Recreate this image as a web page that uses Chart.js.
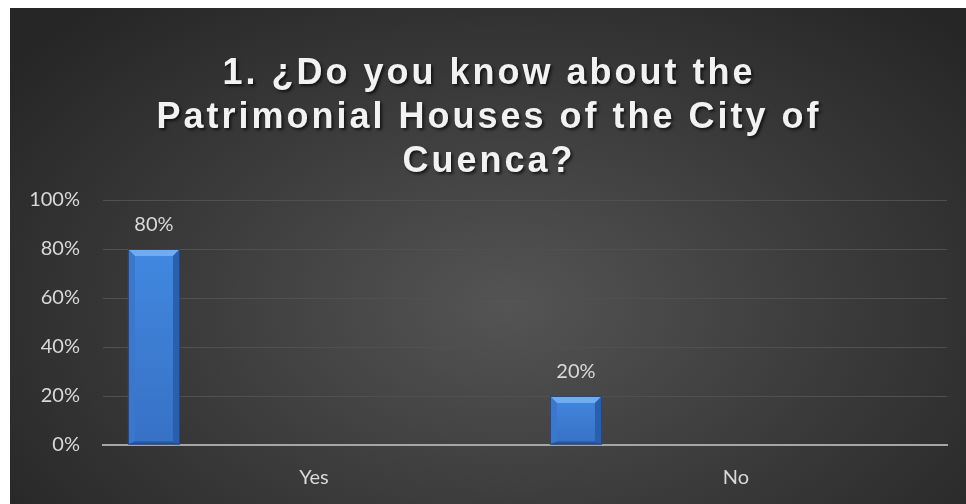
<!DOCTYPE html>
<html>
<head>
<meta charset="utf-8">
<script src="https://cdn.jsdelivr.net/npm/chart.js@4.4.1/dist/chart.umd.min.js"></script>
<style>
    html, body { margin: 0; padding: 0; background: #ffffff; }
    #chartBox {
        position: absolute;
        left: 10px;
        top: 8px;
        width: 956px;
        height: 496px;
        background: radial-gradient(ellipse 65% 80% at 52% 60%, #545454 0%, #3a3a3a 55%, #262626 100%);
    }
</style>
</head>
<body>
<div id="chartBox"><canvas id="knowChart"></canvas></div>
<script>
"use strict";

// Chart data
var titleLines = ["1. \u00bfDo you know about the", "Patrimonial Houses of the City of", "Cuenca?"];
var answers = ["Yes", "No"];
var answerShares = [80, 20];       // percent of respondents
var emptySeries = [null, null];   // second (blank) series of the source sheet
var yTicks = [0, 20, 40, 60, 80, 100];

// Title drawn by hand so it can get letter spacing and a shadow
var spacedTitle = {
    id: 'spacedTitle',
    afterDraw: function (chart) {
        var ctx = chart.ctx;
        ctx.save();
        ctx.font = 'bold 36px "Liberation Sans", Arial, sans-serif';
        ctx.fillStyle = '#f2f2f2';
        ctx.textAlign = 'center';
        ctx.textBaseline = 'alphabetic';
        ctx.letterSpacing = '3px';
        ctx.shadowColor = 'rgba(0, 0, 0, 0.65)';
        ctx.shadowOffsetX = 2;
        ctx.shadowOffsetY = 2;
        ctx.shadowBlur = 3;
        titleLines.forEach(function (line, i) {
            ctx.fillText(line, chart.width / 2 + 1, 76 + i * 44);
        });
        ctx.restore();
    }
};

// Bevelled bars and the value labels above them
var bevelBars = {
    id: 'bevelBars',
    afterDatasetsDraw: function (chart) {
        var ctx = chart.ctx;
        var meta = chart.getDatasetMeta(0);
        meta.data.forEach(function (bar, i) {
            var p = bar.getProps(['x', 'y', 'base', 'width'], true);
            var l = p.x - p.width / 2, r = p.x + p.width / 2, t = p.y, b = p.base;
            var d = 7;

            ctx.save();
            // face
            var face = ctx.createLinearGradient(0, t, 0, b);
            face.addColorStop(0, '#4188e0');
            face.addColorStop(1, '#3771c4');
            ctx.fillStyle = face;
            ctx.fillRect(l, t, r - l, b - t);

            // top bevel
            ctx.fillStyle = '#72acf0';
            ctx.beginPath();
            ctx.moveTo(l, t); ctx.lineTo(r, t); ctx.lineTo(r - d, t + d); ctx.lineTo(l + d, t + d);
            ctx.closePath(); ctx.fill();
            // left bevel
            ctx.fillStyle = '#3a78cf';
            ctx.beginPath();
            ctx.moveTo(l, t); ctx.lineTo(l + d, t + d); ctx.lineTo(l + d, b - 3); ctx.lineTo(l, b);
            ctx.closePath(); ctx.fill();
            // right bevel
            ctx.fillStyle = '#2c5fab';
            ctx.beginPath();
            ctx.moveTo(r, t); ctx.lineTo(r - d, t + d); ctx.lineTo(r - d, b - 3); ctx.lineTo(r, b);
            ctx.closePath(); ctx.fill();
            // bottom bevel
            ctx.fillStyle = '#2a5699';
            ctx.beginPath();
            ctx.moveTo(l, b); ctx.lineTo(l + d, b - 3); ctx.lineTo(r - d, b - 3); ctx.lineTo(r, b);
            ctx.closePath(); ctx.fill();
            // outline
            ctx.strokeStyle = '#24477e';
            ctx.lineWidth = 1;
            ctx.strokeRect(l + 0.5, t + 0.5, r - l - 1, b - t - 1);

            // value label
            ctx.font = '20px Lato, "Open Sans", sans-serif';
            ctx.fillStyle = '#d9d9d9';
            ctx.textAlign = 'center';
            ctx.textBaseline = 'alphabetic';
            ctx.fillText(answerShares[i] + '%', p.x, t - 18);
            ctx.restore();
        });
    }
};

var config = {
    type: 'bar',
    data: {
        labels: answers,
        datasets: [{
            label: 'Share',
            data: answerShares,
            backgroundColor: 'rgba(0,0,0,0)',
            borderWidth: 0,
            categoryPercentage: 1.517,
            barPercentage: 0.1625
        }, {
            label: '',
            data: emptySeries,
            backgroundColor: 'rgba(0,0,0,0)',
            categoryPercentage: 1.517,
            barPercentage: 0.1625
        }]
    },
    options: {
        responsive: true,
        maintainAspectRatio: false,
        animation: false,
        layout: {
            padding: { top: 192, right: 19, bottom: 0, left: 0 }
        },
        scales: {
            x: {
                grid: { display: false },
                border: { display: true, color: '#a6a6a6', width: 2 },
                ticks: {
                    color: '#d9d9d9',
                    padding: 13,
                    font: { family: 'Lato, "Open Sans", sans-serif', size: 20 }
                },
                afterFit: function (scale) { scale.height = 59; }
            },
            y: {
                min: 0,
                max: 100,
                afterBuildTicks: function (scale) {
                    scale.ticks = yTicks.map(function (v) { return { value: v }; });
                },
                grid: {
                    color: function (c) { return c.tick.value === 0 ? 'rgba(0,0,0,0)' : '#505050'; },
                    lineWidth: 1,
                    drawTicks: false
                },
                border: { display: false },
                ticks: {
                    color: '#d9d9d9',
                    padding: 23,
                    font: { family: 'Lato, "Open Sans", sans-serif', size: 20 },
                    callback: function (v) { return v + '%'; }
                },
                afterFit: function (scale) { scale.width = 93; }
            }
        },
        plugins: {
            legend: { display: false },
            tooltip: { enabled: false }
        }
    },
    plugins: [bevelBars, spacedTitle]
};

var ctx = document.getElementById('knowChart').getContext('2d');
new Chart(ctx, config);
</script>
</body>
</html>
